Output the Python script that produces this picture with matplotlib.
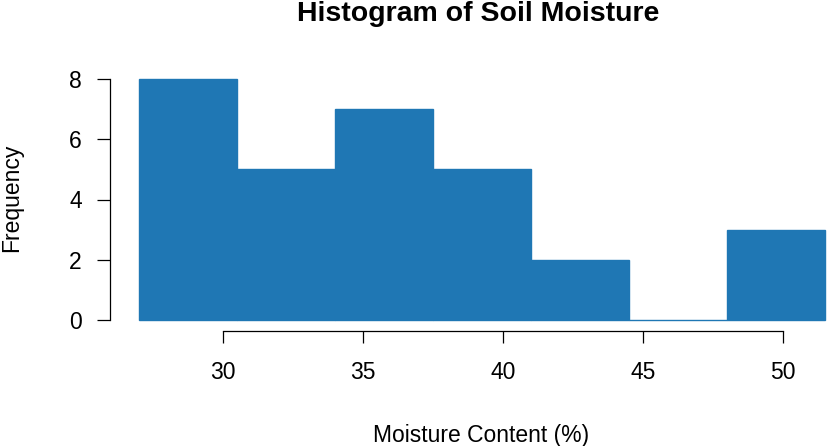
import matplotlib.pyplot as plt

plt.rcParams['font.family'] = ['Liberation Sans', 'DejaVu Sans']

# histogram bins (left edges) and counts
bin_edges = [27.0, 30.5, 34.0, 37.5, 41.0, 44.5, 48.0, 51.5]
counts = [8, 5, 7, 5, 2, 0, 3]
x_ticks = [30, 35, 40, 45, 50]
y_ticks = [0, 2, 4, 6, 8]

bar_color = '#1F77B4'

fig = plt.figure(figsize=(8.27, 4.46), dpi=100)
ax = fig.add_axes([120 / 827, 1 - 322 / 446, 707 / 827, 252 / 446])

widths = [bin_edges[i + 1] - bin_edges[i] for i in range(len(counts))]
ax.bar(bin_edges[:-1], counts, width=widths, align='edge',
       color=bar_color, edgecolor=bar_color, linewidth=1)

ax.set_xlim(30 - 103 / 28, 30 + 604 / 28)
ax.set_ylim(-2 / 30.125, 250 / 30.125)

# R style axes
for s in ['top', 'right']:
    ax.spines[s].set_visible(False)
ax.spines['left'].set_position(('outward', 7.2))
ax.spines['bottom'].set_position(('outward', 6.5))
ax.spines['left'].set_bounds(0, 8)
ax.spines['bottom'].set_bounds(30, 50)
ax.spines['left'].set_linewidth(0.9)
ax.spines['bottom'].set_linewidth(0.9)

ax.set_xticks(x_ticks)
ax.set_yticks(y_ticks)
ax.tick_params(axis='x', length=8.6, width=0.9, pad=13, labelsize=16.5)
ax.tick_params(axis='y', length=9.4, width=0.9, pad=11, labelsize=16.5)

fig.text(478.5 / 827, 1 - 21 / 446, 'Histogram of Soil Moisture',
         ha='center', va='baseline', fontsize=20.5, fontweight='bold')
fig.text(481 / 827, 1 - 442 / 446, 'Moisture Content (%)',
         ha='center', va='baseline', fontsize=16.5)
fig.text(12 / 827, 1 - 198 / 446, 'Frequency', rotation=90,
         ha='center', va='center', fontsize=16.5)

fig.savefig('out.png', dpi=100)
